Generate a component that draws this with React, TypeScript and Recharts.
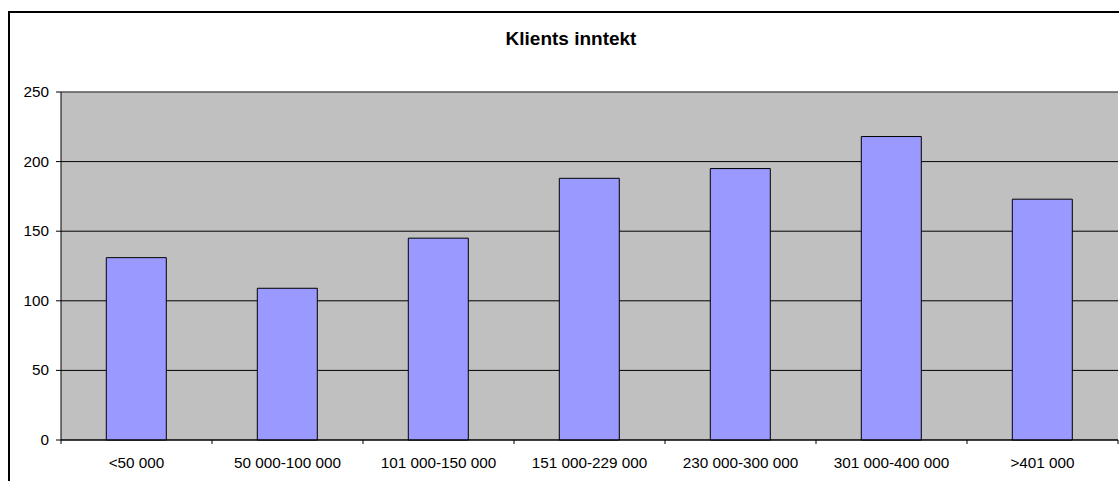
import React from 'react';
import { BarChart, Bar, XAxis, YAxis, CartesianGrid, ReferenceLine } from 'recharts';

const categories = ['<50 000', '50 000-100 000', '101 000-150 000', '151 000-229 000', '230 000-300 000', '301 000-400 000', '>401 000'];
const clients = [131, 109, 145, 188, 195, 218, 173];
const yTicks = [0, 50, 100, 150, 200, 250];

const data = categories.map((name, i) => ({ name, value: clients[i] }));

const FONT = 'Arial, "Liberation Sans", sans-serif';
const W = 1119;
const H = 481;
const margin = { top: 92, right: 1, bottom: 11, left: 0 };
const yAxisW = 61;
const band = (W - margin.left - margin.right - yAxisW) / categories.length;

const XTick = (props: any) => {
  const { x, y, payload, index } = props;
  return (
    <g>
      <line x1={x + band / 2} x2={x + band / 2} y1={y} y2={y + 4} stroke="#000" />
      {index === 0 && <line x1={x - band / 2} x2={x - band / 2} y1={y} y2={y + 4} stroke="#000" />}
      <text x={x} y={y + 28} textAnchor="middle" fontSize={15.3} fontFamily={FONT} fill="#000">
        {payload.value}
      </text>
    </g>
  );
};

const YTick = (props: any) => {
  const { x, y, payload } = props;
  return (
    <g>
      <line x1={x - 5} x2={x} y1={y} y2={y} stroke="#000" />
      <text x={x - 12} y={y + 5} textAnchor="end" fontSize={15.3} fontFamily={FONT} fill="#000">
        {payload.value}
      </text>
    </g>
  );
};

export default function App() {
  return (
    <div style={{ position: 'fixed', left: 0, top: 0, width: W, height: H, overflow: 'hidden', background: '#fff' }}>
      <div style={{ position: 'absolute', left: 8, top: 11, width: 1200, height: 600, border: '2px solid #000' }} />
      <div
        style={{
          position: 'absolute', left: 371, width: 400, top: 28, textAlign: 'center',
          fontFamily: FONT, fontWeight: 'bold', fontSize: 19, lineHeight: '22px',
        }}
      >
        Klients inntekt
      </div>
      <div style={{ position: 'absolute', left: 0, top: 0 }}>
        <BarChart width={W} height={H} data={data} margin={margin} barCategoryGap="30%">
          <CartesianGrid vertical={false} stroke="#000" fill="#C0C0C0" fillOpacity={1} />
          <XAxis dataKey="name" height={30} tickSize={0} tickMargin={0} tick={<XTick />} stroke="#000" interval={0} />
          <YAxis width={yAxisW} domain={[0, 250]} ticks={yTicks} tickSize={0} tickMargin={0} tick={<YTick />} stroke="#000" interval={0} />
          <ReferenceLine y={250} stroke="#808080" />
          <Bar dataKey="value" fill="#9999FF" stroke="#000" strokeWidth={1} isAnimationActive={false} />
        </BarChart>
      </div>
    </div>
  );
}
